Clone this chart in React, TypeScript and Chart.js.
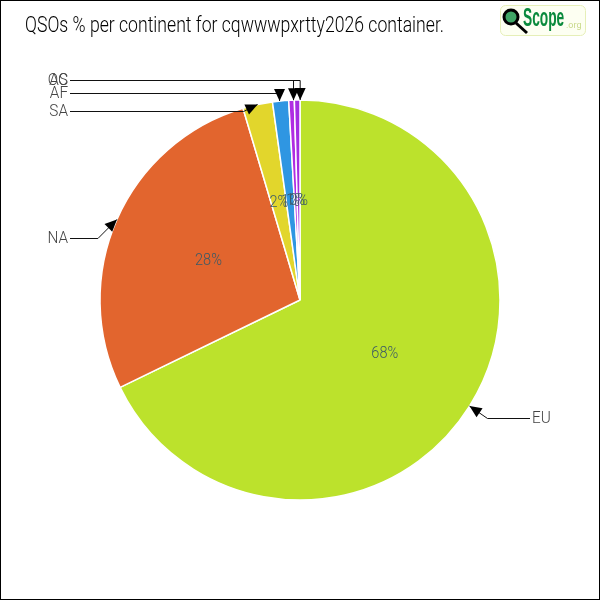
import React, { useEffect, useRef } from "react";
import { Chart, registerables } from "chart.js";

Chart.register(...registerables);

const TITLE = "QSOs % per continent for cqwwwpxrtty2026 container.";
const continents = ["EU", "NA", "SA", "AF", "AS", "OC"];
const shares = [67.8, 27.6, 2.4, 1.3, 0.45, 0.45];
const percentLabels = ["68%", "28%", "2%", "1%", "1%", "0%"];
const colours = ["#bce22c", "#e2652e", "#e2d62c", "#2f96e2", "#b02ce2", "#a52ce2"];
const calloutRows = [418, 238, 111, 93, 80, 80];
const calloutShifts = [0, 0, 0, -1, 2, 3];

const FONT = '"Roboto", "Liberation Sans", sans-serif';

function squeezedText(ctx: any, text: string, x: number, y: number, sx: number) {
  ctx.save();
  ctx.translate(x, y);
  ctx.scale(sx, 1);
  ctx.fillText(text, 0, 0);
  ctx.restore();
}

function head(ctx: any, ax: number, ay: number, dirX: number, dirY: number) {
  const size = 12;
  const half = 5.5;
  ctx.beginPath();
  ctx.moveTo(ax, ay);
  ctx.lineTo(ax - dirX * size - dirY * half, ay - dirY * size + dirX * half);
  ctx.lineTo(ax - dirX * size + dirY * half, ay - dirY * size - dirX * half);
  ctx.closePath();
  ctx.fill();
}

const overlay = {
  id: "overlay",
  afterDraw(chart: any) {
    const { ctx } = chart;
    const arcs = chart.getDatasetMeta(0).data;
    ctx.save();
    ctx.strokeStyle = "#000";
    ctx.lineWidth = 2;
    ctx.strokeRect(0, 0, 600, 600);

    ctx.textBaseline = "middle";
    ctx.textAlign = "left";
    ctx.fillStyle = "#000";
    ctx.font = `300 21.5px ${FONT}`;
    squeezedText(ctx, TITLE, 25, 27, 0.82);

    arcs.forEach((arc: any, i: number) => {
      const mid = (arc.startAngle + arc.endAngle) / 2;
      const r = arc.outerRadius;
      const tipX = arc.x + Math.cos(mid) * r + calloutShifts[i];
      const tipY = arc.y + Math.sin(mid) * r;
      const rowY = calloutRows[i];
      const right = tipX > arc.x + 100;

      let elbowX: number;
      if (i >= 3) elbowX = tipX;
      else if (i === 2) elbowX = tipX - 14;
      else elbowX = tipX + (right ? 18 : -19);

      ctx.strokeStyle = "#111";
      ctx.fillStyle = "#000";
      ctx.lineWidth = 1;
      ctx.beginPath();
      ctx.moveTo(tipX, tipY);
      ctx.lineTo(elbowX, rowY + 0.5);
      ctx.lineTo(right ? 530 : 70, rowY + 0.5);
      ctx.stroke();

      const dx = tipX - elbowX;
      const dy = tipY - rowY;
      const len = Math.hypot(dx, dy);
      head(ctx, tipX, tipY, dx / len, dy / len);

      ctx.fillStyle = "#444";
      ctx.font = `300 17px ${FONT}`;
      ctx.textAlign = right ? "left" : "right";
      squeezedText(ctx, continents[i], right ? 532 : 68, rowY + 1, 0.9);

      ctx.fillStyle = "#3d5a66";
      ctx.font = `300 16.5px ${FONT}`;
      ctx.textAlign = "center";
      squeezedText(
        ctx,
        percentLabels[i],
        arc.x + Math.cos(mid) * r * 0.5,
        arc.y + Math.sin(mid) * r * 0.5 + 1,
        0.88
      );
    });

    // logo
    ctx.fillStyle = "#fdfff2";
    ctx.strokeStyle = "#e6efb8";
    ctx.lineWidth = 1;
    ctx.beginPath();
    ctx.roundRect(500.5, 5.5, 85, 30, 5);
    ctx.fill();
    ctx.stroke();
    ctx.strokeStyle = "#000";
    ctx.lineWidth = 3;
    ctx.fillStyle = "#3fa565";
    ctx.beginPath();
    ctx.arc(511, 17, 7, 0, Math.PI * 2);
    ctx.fill();
    ctx.stroke();
    ctx.beginPath();
    ctx.moveTo(516, 23);
    ctx.lineTo(527, 33);
    ctx.stroke();
    ctx.textAlign = "left";
    ctx.fillStyle = "#0a8a3c";
    ctx.font = `bold 25px "Liberation Sans", sans-serif`;
    squeezedText(ctx, "Scope", 523, 19, 0.55);
    ctx.fillStyle = "#c8d98a";
    ctx.font = `9px ${FONT}`;
    ctx.fillText(".org", 566, 26);
    ctx.restore();
  },
};

export default function App() {
  const ref = useRef<HTMLCanvasElement>(null);
  useEffect(() => {
    document.body.style.margin = "0";
    const chart = new Chart(ref.current!, {
      type: "pie",
      data: {
        labels: continents,
        datasets: [
          {
            data: shares,
            backgroundColor: colours,
            borderColor: "#ffffff",
            borderWidth: 1.5,
          },
        ],
      },
      options: {
        responsive: false,
        animation: false,
        layout: { padding: 99.25 },
        plugins: { legend: { display: false }, tooltip: { enabled: false } },
      },
      plugins: [overlay],
    });
    return () => chart.destroy();
  }, []);
  return <canvas ref={ref} width={600} height={600} style={{ display: "block" }} />;
}
